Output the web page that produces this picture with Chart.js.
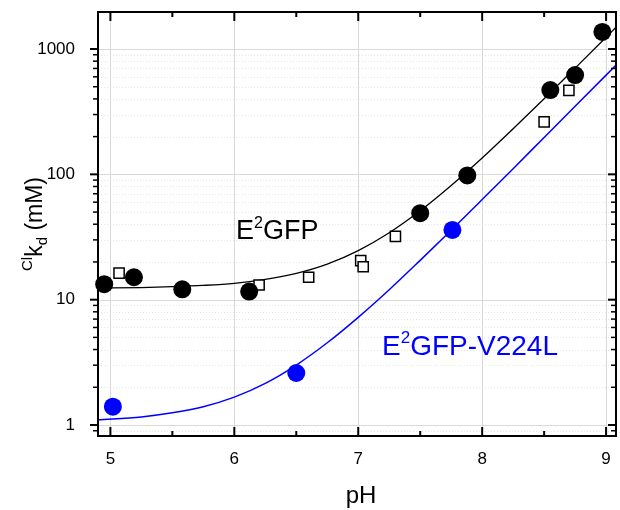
<!DOCTYPE html>
<html>
<head>
<meta charset="utf-8">
<title>Cl kd vs pH</title>
<script src="https://cdn.jsdelivr.net/npm/chart.js@4.4.0/dist/chart.umd.min.js"></script>
<style>
html, body { margin: 0; padding: 0; background: #fff; }
</style>
</head>
<body>
<canvas id="chart" width="620" height="510"></canvas>
<script>
// data
const blackPH = [4.95, 5.19, 5.58, 6.12, 7.50, 7.88, 8.55, 8.75, 8.97];
const blackKd = [13.3, 15.1, 12.1, 11.6, 49, 98, 470, 620, 1370];
const squarePH = [5.07, 6.20, 6.60, 7.02, 7.04, 7.30, 8.50, 8.70];
const squareKd = [16.3, 13.1, 15.1, 20.5, 18.3, 32, 262, 468];
const bluePH = [5.02, 6.50, 7.76];
const blueKd = [1.40, 2.6, 36];

// fitted curves
const fitPH = [4.9, 5.25, 5.5, 5.75, 6.0, 6.25, 6.5, 6.75, 7.0, 7.25, 7.5, 7.75, 8.0, 8.25, 8.5, 8.75, 9.0, 9.08];
const fitBlack = [12.4, 12.5, 12.7, 13.0, 13.5, 14.5, 16.2, 19.2, 24.6, 34.2, 51.2, 81.5, 135, 231, 401, 704, 1242, 1491];
const fitBlue = [1.10, 1.16, 1.25, 1.40, 1.67, 2.15, 3.01, 4.53, 7.23, 12.0, 20.6, 35.8, 62.9, 111, 197, 349, 619, 744];

const xTicks = [5, 6, 7, 8, 9];
const xMinor = [5.5, 6.5, 7.5, 8.5];
const yTicks = [1, 10, 100, 1000];

const FONT = '"Liberation Sans", Arial, sans-serif';

function pairs(xs, ys) {
    const out = [];
    for (let i = 0; i < xs.length; i++) {
        out.push({ x: xs[i], y: ys[i] });
    }
    return out;
}

// minor log ticks 2..9 per decade
function yMinorValues(min, max) {
    const vals = [];
    for (let d = -1; d <= 3; d++) {
        for (let m = 2; m <= 9; m++) {
            const v = m * Math.pow(10, d);
            if (v >= min && v <= max) vals.push(v);
        }
    }
    return vals;
}

function line(ctx, x1, y1, x2, y2) {
    ctx.beginPath();
    ctx.moveTo(x1, y1);
    ctx.lineTo(x2, y2);
    ctx.stroke();
}

// no extra room for the tick labels, the frame is placed by hand
function noPad(s) {
    s.paddingTop = 0;
    s.paddingBottom = 0;
    s.paddingLeft = 0;
    s.paddingRight = 0;
}

const gridPlugin = {
    id: 'gridPlugin',
    beforeDatasetsDraw(chart) {
        const ctx = chart.ctx;
        const a = chart.chartArea;
        const xs = chart.scales.x;
        const ys = chart.scales.y;
        ctx.save();
        ctx.lineWidth = 1;
        ctx.strokeStyle = '#e6e6e6';
        ctx.setLineDash([1, 2]);
        yMinorValues(ys.min, ys.max).forEach(v => {
            const y = Math.round(ys.getPixelForValue(v)) + 0.5;
            line(ctx, a.left, y, a.right, y);
        });
        ctx.setLineDash([]);
        ctx.strokeStyle = '#d9d9d9';
        yTicks.forEach(v => {
            const y = Math.round(ys.getPixelForValue(v)) + 0.5;
            line(ctx, a.left, y, a.right, y);
        });
        xTicks.forEach(v => {
            const x = Math.round(xs.getPixelForValue(v)) + 0.5;
            line(ctx, x, a.top, x, a.bottom);
        });
        ctx.restore();
    },
    afterDatasetsDraw(chart) {
        const ctx = chart.ctx;
        const a = chart.chartArea;
        const xs = chart.scales.x;
        const ys = chart.scales.y;
        ctx.save();
        ctx.strokeStyle = '#000';
        ctx.lineWidth = 2;
        ctx.strokeRect(a.left, a.top, a.right - a.left, a.bottom - a.top);

        // x ticks point inward, bottom and top
        xTicks.forEach(v => {
            const x = xs.getPixelForValue(v);
            line(ctx, x, a.bottom, x, a.bottom - 9);
            line(ctx, x, a.top, x, a.top + 9);
        });
        xMinor.forEach(v => {
            const x = xs.getPixelForValue(v);
            line(ctx, x, a.bottom, x, a.bottom - 5);
            line(ctx, x, a.top, x, a.top + 5);
        });
        // y ticks: outward on the left, inward on the right
        yTicks.forEach(v => {
            const y = ys.getPixelForValue(v);
            line(ctx, a.left, y, a.left - 8, y);
            line(ctx, a.right, y, a.right - 8, y);
        });
        ctx.lineWidth = 1.5;
        yMinorValues(ys.min, ys.max).forEach(v => {
            const y = ys.getPixelForValue(v);
            line(ctx, a.left, y, a.left - 5, y);
            line(ctx, a.right, y, a.right - 5, y);
        });

        // x tick labels
        ctx.fillStyle = '#000';
        ctx.font = '17px ' + FONT;
        ctx.textAlign = 'center';
        ctx.textBaseline = 'alphabetic';
        xTicks.forEach(v => {
            ctx.fillText(String(v), xs.getPixelForValue(v), a.bottom + 28);
        });
        ctx.restore();
    },
    afterDraw(chart) {
        const ctx = chart.ctx;
        ctx.save();
        ctx.textBaseline = 'alphabetic';

        // x title
        ctx.fillStyle = '#000';
        ctx.font = '24px ' + FONT;
        ctx.textAlign = 'center';
        ctx.fillText('pH', 361, 503);

        // y title, rotated: Cl superscript, k, d subscript, (mM)
        ctx.textAlign = 'left';
        ctx.translate(42, 224);
        ctx.rotate(-Math.PI / 2);
        const parts = [
            { t: 'Cl', size: 15, dy: -10 },
            { t: 'k', size: 23, dy: 0 },
            { t: 'd', size: 15, dy: 5 },
            { t: ' (mM)', size: 23, dy: 0 }
        ];
        let total = 0;
        parts.forEach(p => {
            ctx.font = p.size + 'px ' + FONT;
            p.w = ctx.measureText(p.t).width;
            total += p.w;
        });
        let px = -total / 2;
        parts.forEach(p => {
            ctx.font = p.size + 'px ' + FONT;
            ctx.fillText(p.t, px, p.dy);
            px += p.w;
        });
        ctx.setTransform(1, 0, 0, 1, 0, 0);

        // curve labels
        drawE2(ctx, 'GFP', 236, 239, 27, '#000');
        drawE2(ctx, 'GFP-V224L', 382, 355, 28, '#0000ff');
        ctx.restore();
    }
};

function drawE2(ctx, rest, x, y, size, color) {
    ctx.fillStyle = color;
    ctx.font = size + 'px ' + FONT;
    ctx.fillText('E', x, y);
    let w = ctx.measureText('E').width;
    ctx.font = Math.round(size * 0.6) + 'px ' + FONT;
    ctx.fillText('2', x + w, y - size * 0.42);
    w += ctx.measureText('2').width;
    ctx.font = size + 'px ' + FONT;
    ctx.fillText(rest, x + w, y);
}

const ctx = document.getElementById('chart');
const chart = new Chart(ctx, {
    type: 'scatter',
    data: {
        datasets: [
            {
                label: 'E2GFP',
                data: pairs(blackPH, blackKd),
                pointStyle: 'circle',
                pointRadius: 9,
                backgroundColor: '#000',
                borderWidth: 0,
                clip: false
            },
            {
                label: 'E2GFP (2)',
                data: pairs(squarePH, squareKd),
                pointStyle: 'rect',
                pointRadius: 7.2,
                backgroundColor: '#fff',
                borderColor: '#000',
                borderWidth: 1.5,
                clip: false
            },
            {
                label: 'E2GFP-V224L',
                data: pairs(bluePH, blueKd),
                pointStyle: 'circle',
                pointRadius: 9,
                backgroundColor: '#0000ff',
                borderWidth: 0,
                clip: false
            },
            {
                type: 'line',
                label: 'fit E2GFP',
                data: pairs(fitPH, fitBlack),
                borderColor: '#000',
                borderWidth: 1.3,
                pointRadius: 0,
                cubicInterpolationMode: 'monotone',
                fill: false
            },
            {
                type: 'line',
                label: 'fit V224L',
                data: pairs(fitPH, fitBlue),
                borderColor: '#0000ff',
                borderWidth: 1.5,
                pointRadius: 0,
                cubicInterpolationMode: 'monotone',
                fill: false
            }
        ]
    },
    options: {
        responsive: false,
        animation: false,
        events: [],
        // point radius would otherwise push the frame in
        layout: { autoPadding: false, padding: { top: 12, right: 4, left: 0, bottom: 0 } },
        plugins: {
            legend: { display: false },
            tooltip: { enabled: false }
        },
        scales: {
            x: {
                type: 'linear',
                min: 4.9,
                max: 9.08,
                afterBuildTicks: s => { s.ticks = xTicks.map(v => ({ value: v })); },
                afterFit: s => { s.height = 74; noPad(s); },
                grid: { display: false },
                border: { display: false },
                ticks: { display: false }
            },
            y: {
                type: 'logarithmic',
                min: 0.817,
                max: 1974,
                afterBuildTicks: s => { s.ticks = yTicks.map(v => ({ value: v })); },
                afterFit: s => { s.width = 98; noPad(s); },
                grid: { display: false },
                border: { display: false },
                ticks: {
                    color: '#000',
                    font: { family: FONT, size: 17 },
                    padding: 15,
                    callback: v => String(v)
                }
            }
        }
    },
    plugins: [gridPlugin]
});
</script>
</body>
</html>
